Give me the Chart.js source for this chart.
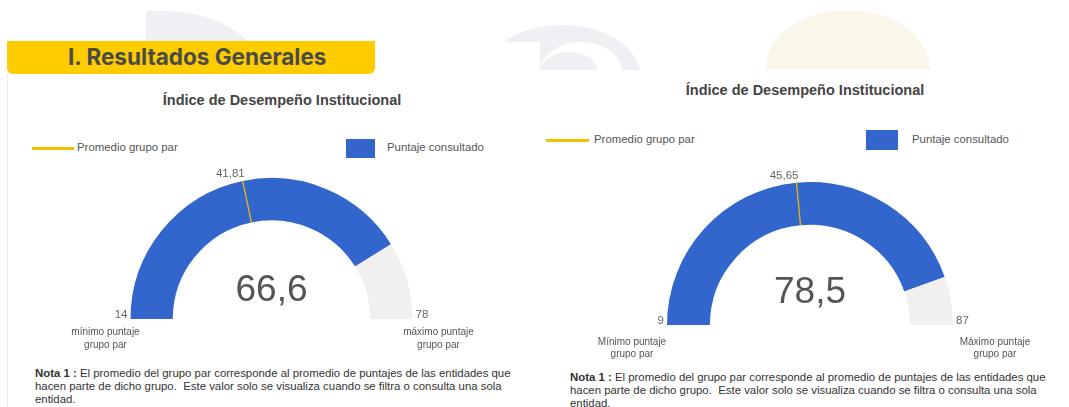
<!DOCTYPE html>
<html>
<head>
<meta charset="utf-8">
<script src="https://cdn.jsdelivr.net/npm/chart.js@4.4.1/dist/chart.umd.min.js"></script>
<style>
  body { margin:0; width:1069px; height:407px; overflow:hidden; background:#fff; position:relative;
         font-family:"Liberation Sans", Arial, sans-serif; }
  .abs { position:absolute; }
  .wm { position:absolute; background:#f0eff4; }
  .titulo { position:absolute; font-weight:bold; font-size:14.5px; color:#444; text-align:center; }
  .leyenda { position:absolute; font-size:11.4px; color:#555; white-space:nowrap; }
  .nota { position:absolute; font-size:11.4px; line-height:13px; color:#333; white-space:nowrap; }
  canvas { position:absolute; }
</style>
</head>
<body>
<!-- marcas de agua del fondo -->
<div class="abs" style="left:0;top:0;width:1069px;height:70px;overflow:hidden;">
  <div class="wm" style="left:146px;top:11px;width:130px;height:90px;border-top-right-radius:110px 90px;"></div>
  <div class="wm" style="left:484px;top:25px;width:156px;height:90px;border-radius:78px 78px 0 0 / 50px 50px 0 0;"></div>
  <div class="abs" style="left:480px;top:42px;width:60px;height:30px;background:#fff;"></div>
  <div class="abs" style="left:540px;top:42px;width:82px;height:60px;background:#fff;border-radius:41px 41px 0 0 / 30px 30px 0 0;"></div>
  <div class="wm" style="left:540px;top:52px;width:58px;height:40px;border-radius:29px 29px 0 0 / 20px 20px 0 0;"></div>
  <div class="abs" style="left:765px;top:10px;width:165px;height:120px;background:#fbf6ea;border-radius:50% 50% 0 0 / 50% 50% 0 0;"></div>
</div>
<div class="abs" style="left:7px;top:74px;width:1px;height:333px;background:#eeeeee;"></div>

<div class="abs" style="left:7px;top:41px;width:368px;height:33px;background:#ffcc00;border-radius:0 0 6px 6px;
     font-family:Inter, 'Open Sans', sans-serif;font-weight:700;font-size:22.5px;color:#4a4a4a;line-height:32px;">
  <span style="margin-left:61px;">I. Resultados Generales</span>
</div>

<div class="titulo" style="left:0;top:92px;width:564px;">Índice de Desempeño Institucional</div>
<div class="titulo" style="left:540px;top:82px;width:530px;">Índice de Desempeño Institucional</div>

<div class="abs" style="left:32px;top:147px;width:42px;height:3px;background:#f5c000;"></div>
<div class="leyenda" style="left:77px;top:141px;">Promedio grupo par</div>
<div class="abs" style="left:346px;top:139px;width:29px;height:19px;background:#3366cc;"></div>
<div class="leyenda" style="left:387px;top:141px;">Puntaje consultado</div>

<div class="abs" style="left:546px;top:139px;width:43px;height:3px;background:#f5c000;"></div>
<div class="leyenda" style="left:594px;top:133px;">Promedio grupo par</div>
<div class="abs" style="left:866px;top:130px;width:32px;height:20px;background:#3366cc;"></div>
<div class="leyenda" style="left:912px;top:133px;">Puntaje consultado</div>

<canvas id="gaugeIzq" width="540" height="215" style="left:0;top:150px;"></canvas>
<canvas id="gaugeDer" width="529" height="220" style="left:540px;top:150px;"></canvas>

<div class="nota" style="left:35px;top:367px;"><b>Nota 1 :</b> El promedio del grupo par corresponde al promedio de puntajes de las entidades que<br>hacen parte de dicho grupo.&nbsp; Este valor solo se visualiza cuando se filtra o consulta una sola<br>entidad.</div>
<div class="nota" style="left:570px;top:371px;"><b>Nota 1 :</b> El promedio del grupo par corresponde al promedio de puntajes de las entidades que<br>hacen parte de dicho grupo.&nbsp; Este valor solo se visualiza cuando se filtra o consulta una sola<br>entidad.</div>

<script>
// datos de los dos indicadores (izquierda, derecha)
const minimos = [14, 9];
const maximos = [78, 87];
const puntajes = [66.6, 78.5];
const promedios = [41.81, 45.65];
const textoMin = ['mínimo puntaje', 'Mínimo puntaje'];
const textoMax = ['máximo puntaje', 'Máximo puntaje'];
const textoGrupo = 'grupo par';

const AZUL = '#3366cc';
const GRIS = '#f1f0ef';
const AMARILLO = '#e6b800';

function coma(v) { return String(v).replace('.', ','); }

// dibuja marcador del promedio, etiquetas y valor central
const gaugeLabels = {
  id: 'gaugeLabels',
  afterDatasetsDraw(chart, args, o) {
    const ctx = chart.ctx;
    const arc = chart.getDatasetMeta(0).data[0];
    const p = arc.getProps(['x', 'y', 'outerRadius', 'innerRadius', 'endAngle'], true);
    const a = p.endAngle;
    const ox = p.x + Math.cos(a) * p.outerRadius, oy = p.y + Math.sin(a) * p.outerRadius;
    ctx.save();
    ctx.strokeStyle = AMARILLO;
    ctx.lineWidth = 1.3;
    ctx.beginPath();
    ctx.moveTo(p.x + Math.cos(a) * p.innerRadius, p.y + Math.sin(a) * p.innerRadius);
    ctx.lineTo(ox, oy);
    ctx.stroke();

    ctx.fillStyle = '#666';
    ctx.font = '11.5px "Liberation Sans", Arial, sans-serif';
    ctx.textAlign = 'right';
    ctx.textBaseline = 'bottom';
    ctx.fillText(coma(o.promedio), ox + 2, oy - 1);

    ctx.textBaseline = 'alphabetic';
    ctx.fillText(coma(o.min), p.x - p.outerRadius - 3, p.y - 1);
    ctx.textAlign = 'left';
    ctx.fillText(coma(o.max), p.x + p.outerRadius + 3, p.y - 1);

    ctx.fillStyle = '#555';
    ctx.font = '10px "Liberation Sans", Arial, sans-serif';
    ctx.textAlign = 'center';
    ctx.textBaseline = 'middle';
    const xm = p.x - p.outerRadius - o.dxMin, xM = p.x + p.outerRadius + o.dxMax;
    ctx.fillText(o.textoMin, xm, p.y + o.dy1);
    ctx.fillText(textoGrupo, xm, p.y + o.dy2);
    ctx.fillText(o.textoMax, xM, p.y + o.dy1);
    ctx.fillText(textoGrupo, xM, p.y + o.dy2);

    ctx.fillStyle = '#555';
    ctx.font = '37px "Liberation Sans", Arial, sans-serif';
    ctx.textBaseline = 'alphabetic';
    ctx.fillText(coma(o.valor), p.x, p.y - o.dyValor);
    ctx.restore();
  }
};

function crearGauge(id, i, padding, extra) {
  return new Chart(document.getElementById(id), {
    type: 'doughnut',
    data: {
      labels: ['Promedio grupo par', 'Puntaje consultado', 'Resto'],
      datasets: [{
        data: [promedios[i] - minimos[i], puntajes[i] - promedios[i], maximos[i] - puntajes[i]],
        backgroundColor: [AZUL, AZUL, GRIS],
        borderWidth: 0,
        hoverOffset: 0,
        offset: 0
      }]
    },
    options: {
      responsive: false,
      maintainAspectRatio: false,
      animation: false,
      events: [],
      rotation: -90,
      circumference: 180,
      cutout: '70%',
      layout: { padding: padding },
      plugins: {
        legend: { display: false },
        tooltip: { enabled: false },
        gaugeLabels: Object.assign({
          min: minimos[i], max: maximos[i], valor: puntajes[i], promedio: promedios[i],
          textoMin: textoMin[i], textoMax: textoMax[i]
        }, extra)
      }
    },
    plugins: [gaugeLabels]
  });
}

crearGauge('gaugeIzq', 0, { left: 130.5, right: 127.5, top: 28, bottom: 46 },
  { dxMin: 25, dxMax: 26, dy1: 13, dy2: 26, dyValor: 18 });
crearGauge('gaugeDer', 1, { left: 127, right: 116, top: 32, bottom: 45 },
  { dxMin: 35, dxMax: 42, dy1: 17, dy2: 29, dyValor: 22 });
</script>
</body>
</html>
